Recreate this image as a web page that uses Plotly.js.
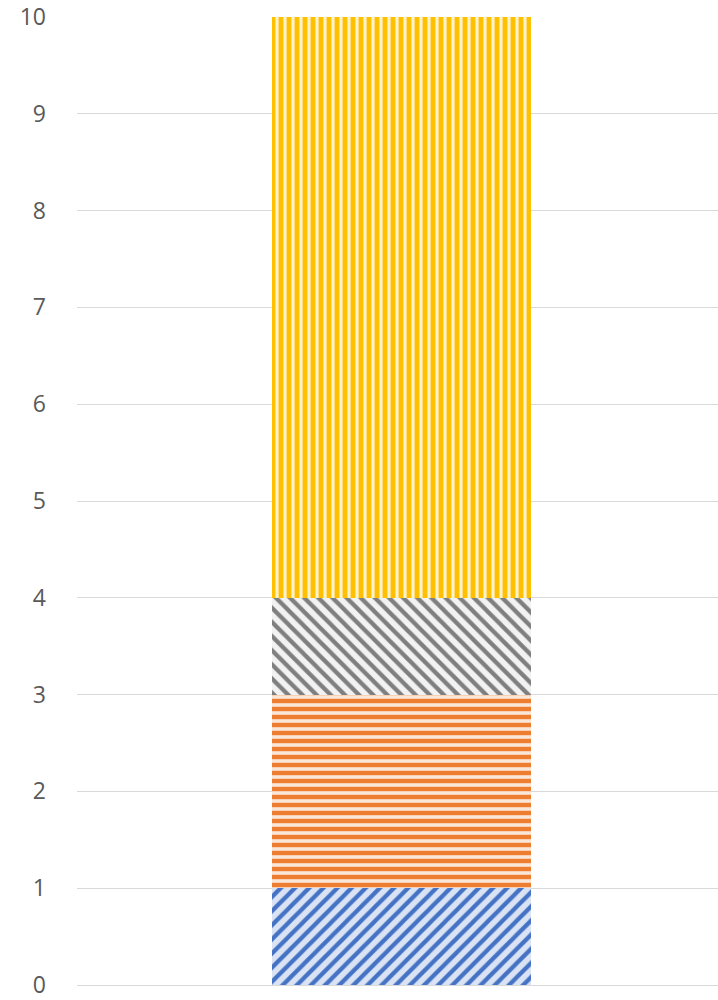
<!DOCTYPE html>
<html><head><meta charset="utf-8">
<script src="https://cdn.plot.ly/plotly-3.0.1.min.js"></script>
<style>html,body{margin:0;padding:0;background:#fff}#c{width:718px;height:1000px}</style>
</head><body><div id="c"></div>
<script>
var categories = ["1"];
var seriesNames = ["Series1", "Series2", "Series3", "Series4"];
var series1 = [1];
var series2 = [2];
var series3 = [1];
var series4 = [6];
var yTicks = [0,1,2,3,4,5,6,7,8,9,10];

var styles = [
  {shape: "/", fg: "#4472C4", bg: "#DAE3F3", size: 10, sol: 0.42},
  {shape: "-", fg: "#ED7D31", bg: "#FBE5D6", size: 8, sol: 0.55},
  {shape: "\\", fg: "#7F7F7F", bg: "#F2F2F2", size: 10, sol: 0.42},
  {shape: "|", fg: "#FFC000", bg: "#FFF2CC", size: 8, sol: 0.6}
];
var vals = [series1, series2, series3, series4];
var data = vals.map(function(v, i){
  var s = styles[i];
  return {
    type: "bar", x: [0], y: v, name: seriesNames[i], text: categories, textposition: "none",
    width: 0.404,
    marker: {color: s.bg, line: {width: 0},
      pattern: {shape: s.shape, fgcolor: s.fg, bgcolor: s.bg, size: s.size, solidity: s.sol, fillmode: "replace"}}
  };
});
var layout = {
  width: 718, height: 1000,
  margin: {l: 77, r: 0, t: 17, b: 15},
  barmode: "stack",
  showlegend: false,
  paper_bgcolor: "#fff", plot_bgcolor: "#fff",
  xaxis: {range: [-0.5063, 0.4937], showticklabels: false, showgrid: false, zeroline: false, showline: false, ticks: ""},
  yaxis: {range: [0, 10], tickvals: yTicks, showgrid: true, gridcolor: "#D9D9D9", gridwidth: 1,
    zeroline: true, zerolinecolor: "#D9D9D9", zerolinewidth: 1, showline: false, ticks: "",
    ticklabelstandoff: 30, ticklabeloverflow: "allow",
    tickfont: {family: "Open Sans, Liberation Sans, sans-serif", size: 23, color: "#595959"}}
};
Plotly.newPlot("c", data, layout, {displayModeBar: false, staticPlot: true});
</script></body></html>
